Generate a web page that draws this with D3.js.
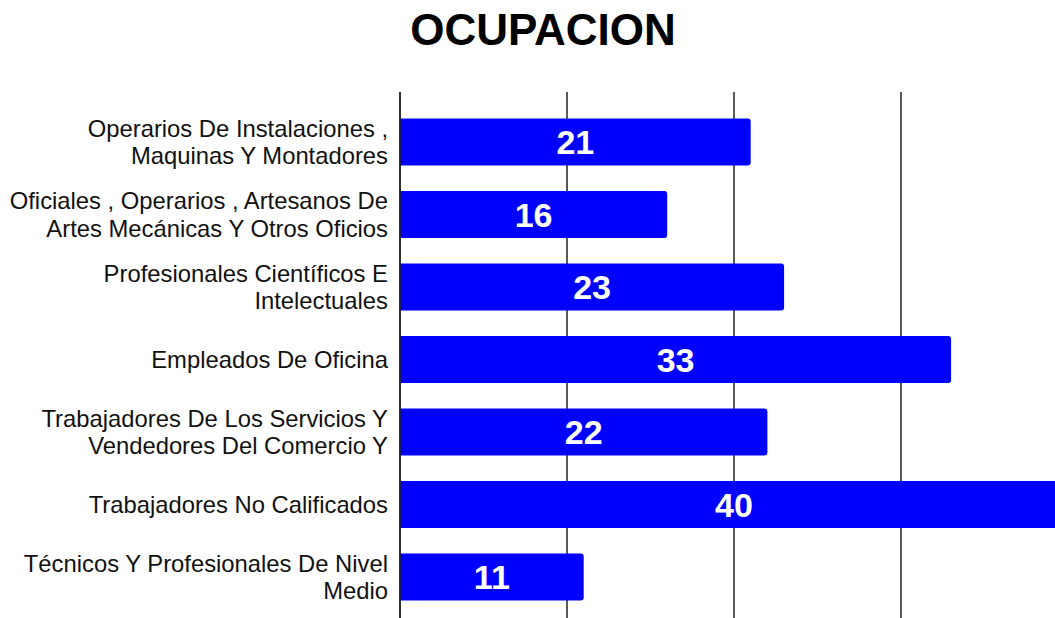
<!DOCTYPE html>
<html>
<head>
<meta charset="utf-8">
<script src="https://cdn.jsdelivr.net/npm/d3@7"></script>
<style>
  body { margin: 0; background: #fff; }
  svg { display: block; font-family: "Liberation Sans", Arial, sans-serif; }
</style>
</head>
<body>
<div id="chart"></div>
<script>
var svgWidth = 1055;
var svgHeight = 618;

// data
var categories = [
  ["Operarios De Instalaciones ,", "Maquinas Y Montadores"],
  ["Oficiales , Operarios , Artesanos De", "Artes Mecánicas Y Otros Oficios"],
  ["Profesionales Científicos E", "Intelectuales"],
  ["Empleados De Oficina"],
  ["Trabajadores De Los Servicios Y", "Vendedores Del Comercio Y"],
  ["Trabajadores No Calificados"],
  ["Técnicos Y Profesionales De Nivel", "Medio"]
];
var values = [21, 16, 23, 33, 22, 40, 11];
var gridTicks = [0, 10, 20, 30, 40];

var svg = d3.select("#chart")
  .append("svg")
  .attr("width", svgWidth)
  .attr("height", svgHeight);

var x = d3.scaleLinear()
  .domain([0, 10])
  .range([400, 567]);

var y = d3.scaleBand()
  .domain(d3.range(values.length))
  .range([93, 626])
  .paddingInner(0.35)
  .paddingOuter(0.35);

// title
svg.append("text")
  .attr("x", 543)
  .attr("y", 45)
  .attr("text-anchor", "middle")
  .attr("font-size", "44px")
  .attr("font-weight", "bold")
  .attr("fill", "#000")
  .text("OCUPACION");

// vertical gridlines
svg.append("g")
  .selectAll("line")
  .data(gridTicks)
  .enter()
  .append("line")
  .attr("x1", d => x(d))
  .attr("x2", d => x(d))
  .attr("y1", 92)
  .attr("y2", svgHeight)
  .attr("stroke", "#222")
  .attr("stroke-width", 1.5);

// bars, square at the axis and slightly rounded at the end
var r = 3;
svg.append("g")
  .selectAll("path")
  .data(values)
  .enter()
  .append("path")
  .attr("fill", "#0000ff")
  .attr("d", function(d, i) {
    var x0 = x(0), x1 = x(d), y0 = y(i), h = y.bandwidth();
    return "M" + x0 + "," + y0 +
      "H" + (x1 - r) +
      "Q" + x1 + "," + y0 + " " + x1 + "," + (y0 + r) +
      "V" + (y0 + h - r) +
      "Q" + x1 + "," + (y0 + h) + " " + (x1 - r) + "," + (y0 + h) +
      "H" + x0 + "Z";
  });

// axis line
svg.append("line")
  .attr("x1", x(0))
  .attr("x2", x(0))
  .attr("y1", 92)
  .attr("y2", svgHeight)
  .attr("stroke", "#222")
  .attr("stroke-width", 1.5);

// value labels
svg.append("g")
  .selectAll("text")
  .data(values)
  .enter()
  .append("text")
  .attr("x", d => (x(0) + x(d)) / 2)
  .attr("y", (d, i) => y(i) + y.bandwidth() / 2)
  .attr("dy", "0.36em")
  .attr("text-anchor", "middle")
  .attr("font-size", "34px")
  .attr("font-weight", "bold")
  .attr("fill", "#fff")
  .text(d => d);

// category labels
var lineH = 27.5;
var labels = svg.append("g")
  .selectAll("text")
  .data(categories)
  .enter()
  .append("text")
  .attr("text-anchor", "end")
  .attr("font-size", "23.8px")
  .attr("fill", "#111");

labels.each(function(lines, i) {
  var cy = y(i) + y.bandwidth() / 2;
  var top = cy - (lines.length - 1) * lineH / 2;
  d3.select(this).selectAll("tspan")
    .data(lines)
    .enter()
    .append("tspan")
    .attr("x", 388)
    .attr("y", (d, j) => top + j * lineH)
    .attr("dy", "0.35em")
    .text(d => d);
});
</script>
</body>
</html>
